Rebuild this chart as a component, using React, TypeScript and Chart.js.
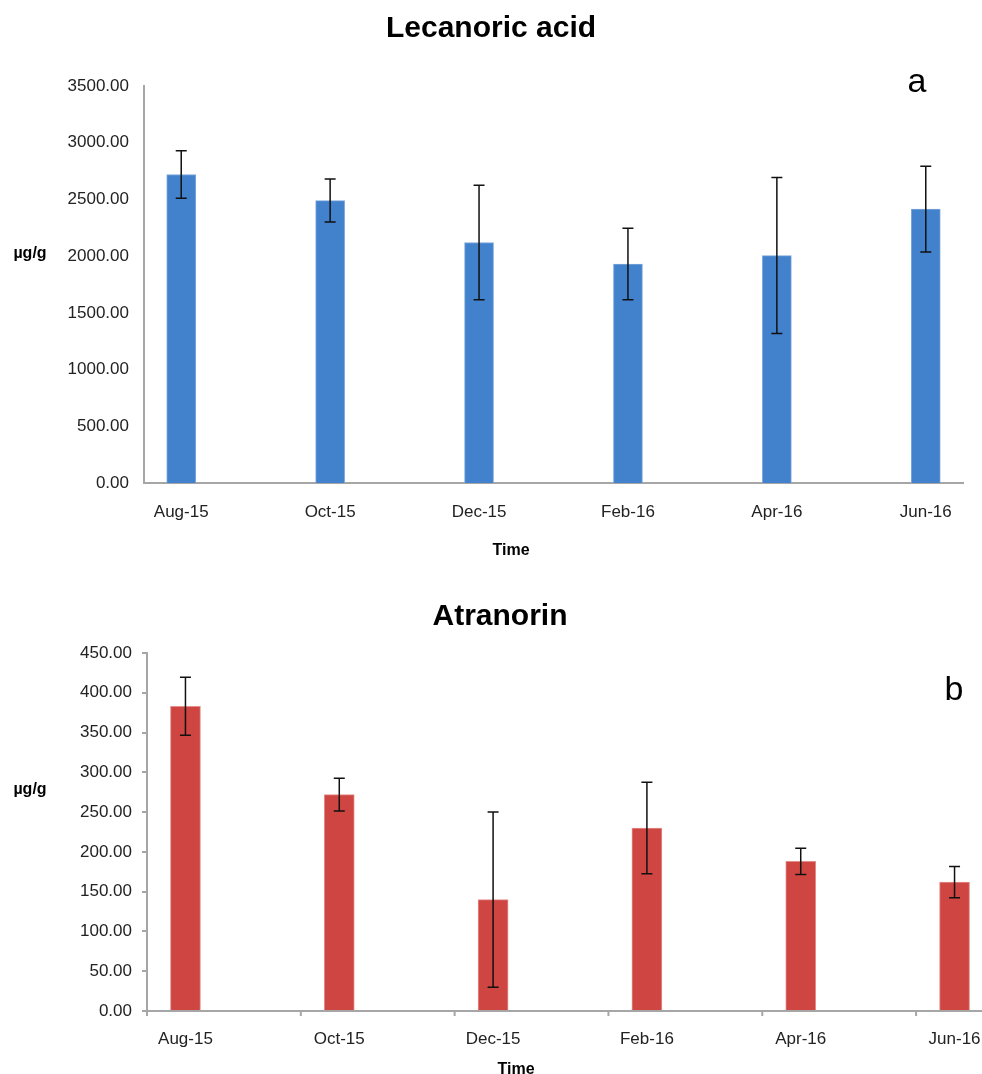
import React, { useEffect, useRef } from "react";
import { Chart, registerables } from "chart.js";

Chart.register(...registerables);

const categories = ["Aug-15", "Oct-15", "Dec-15", "Feb-16", "Apr-16", "Jun-16"];

const lecanoricMeans = [2720, 2490, 2120, 1930, 2005, 2415];
const lecanoricErrors = [210, 190, 505, 315, 688, 378];
const lecanoricTicks = [0, 500, 1000, 1500, 2000, 2500, 3000, 3500];

const atranorinMeans = [383, 272, 140, 230, 188, 162];
const atranorinErrors = [36.5, 20.5, 110, 57.5, 16.5, 19.7];
const atranorinTicks = [0, 50, 100, 150, 200, 250, 300, 350, 400, 450];

const FONT = "Arial, 'Liberation Sans', sans-serif";
const AXIS_COLOR = "#a6a6a6";
const TICK_COLOR = "#222222";

type TextSpec = {
  title: string;
  titleX: number;
  titleBaseline: number;
  letter: string;
  letterX: number;
  letterBaseline: number;
  unitX: number;
  unitY: number;
  timeX: number;
  timeBaseline: number;
  outerTicks: boolean;
};

function makeConfig(
  means: number[],
  errors: number[],
  ticks: number[],
  color: string,
  border: string,
  barWidth: number,
  yWidth: number,
  xHeight: number,
  padding: { top: number; right: number },
  xPadding: number,
  yTickLen: number,
  yPadding: number,
  text: TextSpec
): any {
  const errorBars = {
    id: "errorBars",
    afterDatasetsDraw(chart: any) {
      const { ctx } = chart;
      const xs = chart.scales.x;
      const ys = chart.scales.y;
      ctx.save();
      ctx.strokeStyle = "#111111";
      ctx.lineWidth = 1.5;
      means.forEach((m, i) => {
        const x = xs.getPixelForValue(i);
        const yT = ys.getPixelForValue(m + errors[i]);
        const yB = ys.getPixelForValue(m - errors[i]);
        ctx.beginPath();
        ctx.moveTo(x, yT);
        ctx.lineTo(x, yB);
        ctx.moveTo(x - 5.5, yT);
        ctx.lineTo(x + 5.5, yT);
        ctx.moveTo(x - 5.5, yB);
        ctx.lineTo(x + 5.5, yB);
        ctx.stroke();
      });
      ctx.restore();
    },
  };

  const textPlugin = {
    id: "texts",
    afterDraw(chart: any) {
      const { ctx } = chart;
      const xs = chart.scales.x;
      ctx.save();
      if (text.outerTicks) {
        ctx.strokeStyle = AXIS_COLOR;
        ctx.lineWidth = 2;
        const yb = chart.chartArea.bottom;
        categories.forEach((_, i) => {
          const x = xs.getPixelForValue(i - 0.25);
          ctx.beginPath();
          ctx.moveTo(x, yb);
          ctx.lineTo(x, yb + 5);
          ctx.stroke();
        });
      }
      ctx.fillStyle = "#000000";
      ctx.textAlign = "center";
      ctx.textBaseline = "alphabetic";
      ctx.font = `bold 30px ${FONT}`;
      ctx.fillText(text.title, text.titleX, text.titleBaseline);
      ctx.font = `34px ${FONT}`;
      ctx.fillText(text.letter, text.letterX, text.letterBaseline);
      ctx.font = `bold 16px ${FONT}`;
      ctx.fillText("Time", text.timeX, text.timeBaseline);
      ctx.textBaseline = "middle";
      ctx.fillText("µg/g", text.unitX, text.unitY);
      ctx.restore();
    },
  };

  return {
    type: "bar",
    data: {
      datasets: [
        {
          data: means.map((m, i) => ({ x: i, y: m })),
          backgroundColor: color,
          borderColor: border,
          borderWidth: 1,
          barThickness: barWidth,
        },
      ],
    },
    options: {
      responsive: false,
      animation: false,
      devicePixelRatio: 1,
      layout: { padding: { top: padding.top, right: padding.right, left: 0, bottom: 0 } },
      plugins: {
        legend: { display: false },
        tooltip: { enabled: false },
        title: { display: false },
      },
      scales: {
        x: {
          type: "linear",
          offset: false,
          min: -0.25,
          max: 5.25,
          afterBuildTicks: (scale: any) => {
            scale.ticks = categories.map((_, i) => ({ value: i }));
          },
          afterFit: (scale: any) => {
            scale.height = xHeight;
          },
          ticks: {
            autoSkip: false,
            maxRotation: 0,
            padding: xPadding,
            color: TICK_COLOR,
            font: { family: FONT, size: 17 },
            callback: (v: any) => categories[Math.round(v)] ?? "",
          },
          grid: { display: false },
          border: { display: true, color: AXIS_COLOR, width: 2 },
        },
        y: {
          type: "linear",
          min: ticks[0],
          max: ticks[ticks.length - 1],
          afterBuildTicks: (scale: any) => {
            scale.ticks = ticks.map((t) => ({ value: t }));
          },
          afterFit: (scale: any) => {
            scale.width = yWidth;
          },
          ticks: {
            padding: yPadding,
            color: TICK_COLOR,
            font: { family: FONT, size: 17 },
            callback: (v: any) => Number(v).toFixed(2),
          },
          grid: {
            display: yTickLen > 0,
            drawOnChartArea: false,
            drawTicks: true,
            tickLength: yTickLen,
            color: AXIS_COLOR,
            lineWidth: 2,
          },
          border: { display: true, color: AXIS_COLOR, width: 2 },
        },
      },
    },
    plugins: [errorBars, textPlugin],
  };
}

function ChartCanvas({ config, width, height, top }: { config: any; width: number; height: number; top: number }) {
  const ref = useRef<HTMLCanvasElement | null>(null);
  useEffect(() => {
    if (!ref.current) return;
    const chart = new Chart(ref.current, config);
    return () => chart.destroy();
  }, [config]);
  return (
    <canvas
      ref={ref}
      width={width}
      height={height}
      style={{ position: "absolute", left: 0, top, width, height, display: "block" }}
    />
  );
}

const topConfig = makeConfig(
  lecanoricMeans,
  lecanoricErrors,
  lecanoricTicks,
  "#4281cb",
  "#7aa6db",
  29,
  144,
  82,
  { top: 86, right: 19 },
  11,
  0,
  15,
  {
    title: "Lecanoric acid",
    titleX: 491,
    titleBaseline: 37,
    letter: "a",
    letterX: 917,
    letterBaseline: 92,
    unitX: 30,
    unitY: 254,
    timeX: 511,
    timeBaseline: 555,
    outerTicks: false,
  }
);

const bottomConfig = makeConfig(
  atranorinMeans,
  atranorinErrors,
  atranorinTicks,
  "#cf4541",
  "#e38e8b",
  30,
  147,
  63,
  { top: 88, right: 7 },
  10,
  5,
  10,
  {
    title: "Atranorin",
    titleX: 500,
    titleBaseline: 60,
    letter: "b",
    letterX: 954,
    letterBaseline: 135,
    unitX: 30,
    unitY: 225,
    timeX: 516,
    timeBaseline: 509,
    outerTicks: true,
  }
);

export default function App() {
  return (
    <div
      style={{
        position: "absolute",
        left: 0,
        top: 0,
        width: 982,
        height: 1074,
        overflow: "hidden",
        background: "#ffffff",
      }}
    >
      <ChartCanvas config={topConfig} width={982} height={565} top={0} />
      <ChartCanvas config={bottomConfig} width={1000} height={509} top={565} />
    </div>
  );
}
